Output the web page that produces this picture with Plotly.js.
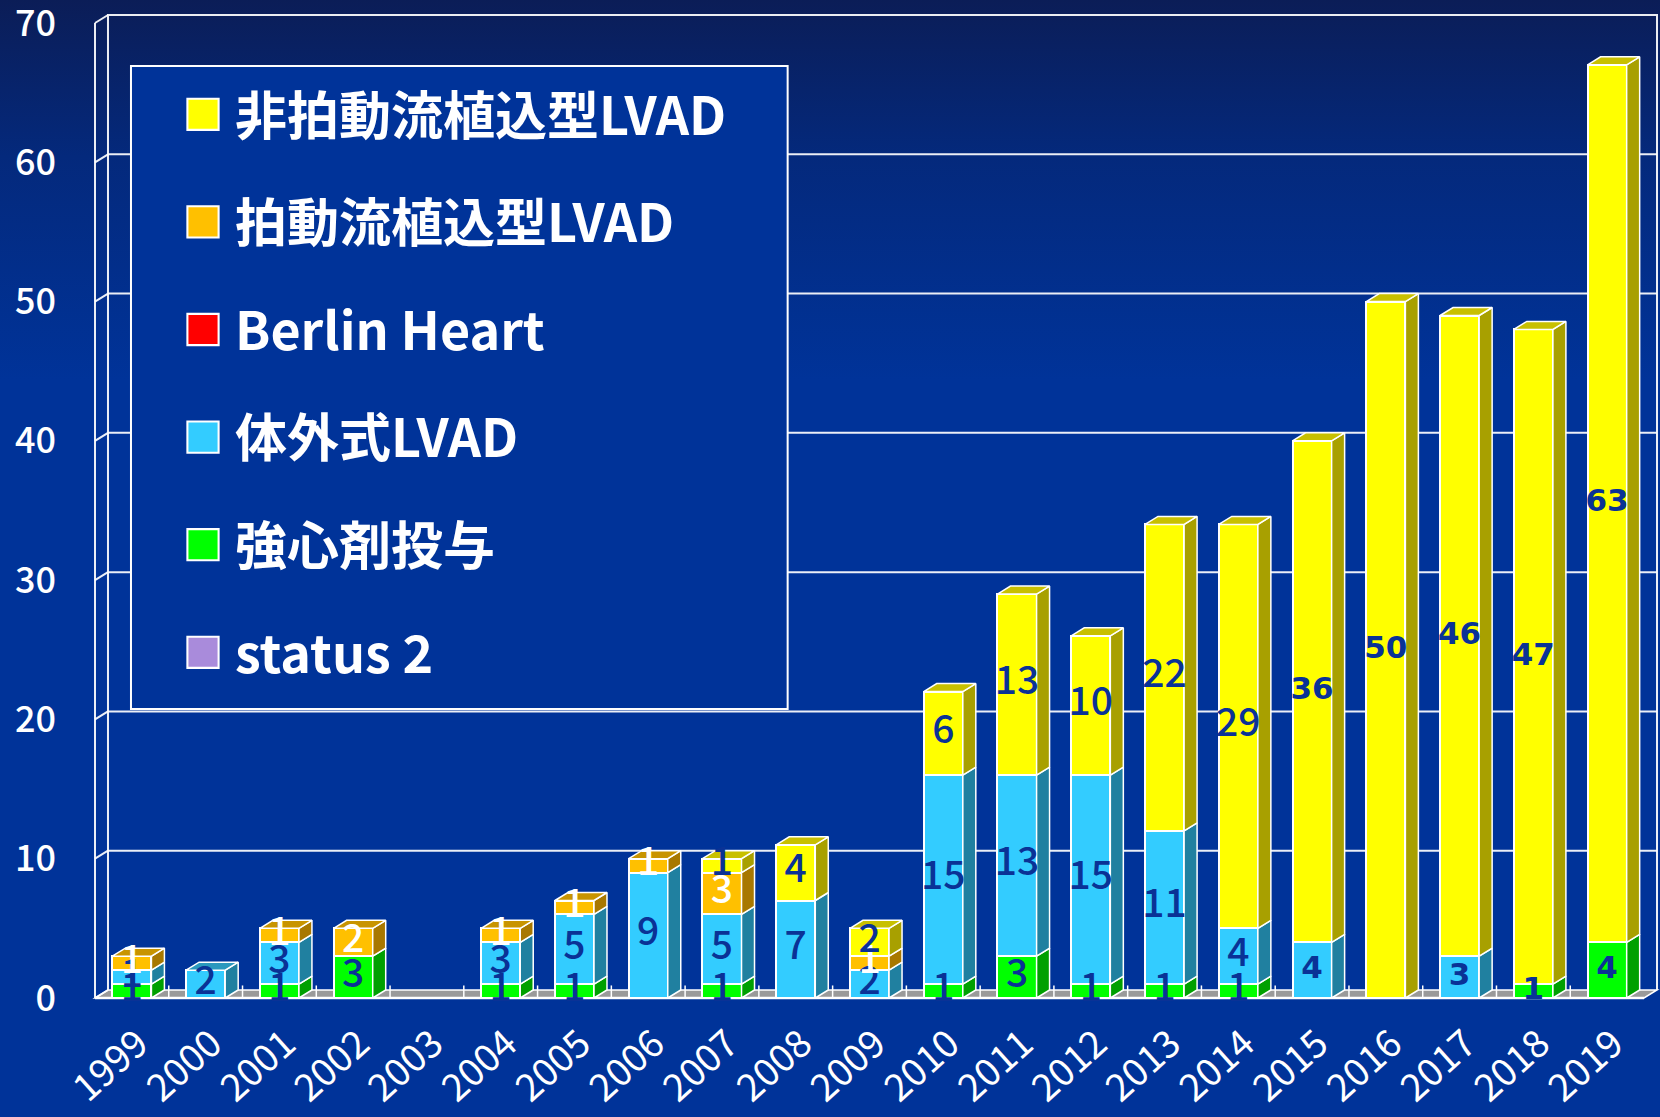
<!DOCTYPE html>
<html>
<head>
<meta charset="utf-8">
<script src="https://cdn.plot.ly/plotly-3.0.1.min.js"></script>
<style>
html,body{margin:0;padding:0;width:1660px;height:1117px;overflow:hidden;
background:linear-gradient(180deg,#0b1d57 0%,#04297c 14%,#003399 34%,#003399 100%);}
#chart{width:1660px;height:1117px;}
</style>
</head>
<body>
<div id="chart"></div>
<script>
// ---- data ----
const years = [1999,2000,2001,2002,2003,2004,2005,2006,2007,2008,2009,2010,2011,2012,2013,2014,2015,2016,2017,2018,2019];
const yearLabels = ["1999","2000","2001","2002","2003","2004","2005","2006","2007","2008","2009","2010","2011","2012","2013","2014","2015","2016","2017","2018","2019"];
const status2        = [0,0,0,0,0,0,0,0,0,0,0,0,0,0,0,0,0,0,0,0,0];
const inotrope       = [1,0,1,3,0,1,1,0,1,0,0,1,3,1,1,1,0,0,0,1,4];
const extracorporeal = [1,2,3,0,0,3,5,9,5,7,2,15,13,15,11,4,4,0,3,0,0];
const berlinHeart    = [0,0,0,0,0,0,0,0,0,0,0,0,0,0,0,0,0,0,0,0,0];
const pulsatile      = [1,0,1,2,0,1,1,1,3,0,1,0,0,0,0,0,0,0,0,0,0];
const nonPulsatile   = [0,0,0,0,0,0,0,0,1,4,2,6,13,10,22,29,36,50,46,47,63];
const yTicks = [0,10,20,30,40,50,60,70];

// ---- series (bottom to top) ----
const series = [
  {name:"status 2",           v:status2,        front:"#A98BDB", side:"#7A5FA8", top:"#8F72C2", txt:"#0a3296"},
  {name:"強心剤投与",          v:inotrope,       front:"#00FF00", side:"#00A000", top:"#00C400", txt:"#0a3296"},
  {name:"体外式LVAD",          v:extracorporeal, front:"#33CCFF", side:"#2080A0", top:"#2A98BE", txt:"#0a3296"},
  {name:"Berlin Heart",       v:berlinHeart,    front:"#FF0000", side:"#A80000", top:"#C80000", txt:"#0a3296"},
  {name:"拍動流植込型LVAD",     v:pulsatile,      front:"#FFC000", side:"#A87800", top:"#C89400", txt:"#FFFFFF"},
  {name:"非拍動流植込型LVAD",   v:nonPulsatile,   front:"#FFFF00", side:"#A8A000", top:"#C8C000", txt:"#0a3296"}
];

// ---- geometry (pixels -> data units) ----
const W = 1660, H = 1117;
const PXX = 73.8, PXY = 13.93;
const DXPX = 13, DYPX = 8, PAD = 3;
const dx = DXPX / PXX, dy = DYPX / PXY;
const xmin = years[0] - 0.5, xmax = years[years.length-1] + 0.5, ymax = 70;
const barW = 0.53;
const xr = [xmin - PAD/PXX, xmax + dx + PAD/PXX];
const yr = [-PAD/PXY, ymax + dy + PAD/PXY];
const plotW = (xr[1]-xr[0]) * PXX, plotH = (yr[1]-yr[0]) * PXY;
const mL = 95 - PAD, mT = 23 - DYPX - PAD;
const mR = Math.max(0, W - mL - plotW), mB = H - mT - plotH;

// ---- traces ----
const traces = [];
series.forEach((s, k) => {
  traces.push({type:"bar", name:s.name, x:years, y:s.v, width:barW,
    legendgroup:s.name, legendrank:series.length - k, textposition:"none", hoverinfo:"skip",
    marker:{color:s.front, line:{color:"#FFFFFF", width:2}}});
});

const base = years.map(() => 0);
const totals = years.map((_, i) => series.reduce((a, s) => a + s.v[i], 0));
const labA = {x:[], y:[], t:[], c:[]}, labB = {x:[], y:[], t:[], c:[]};
series.forEach(s => {
  const sx = [], sy = [], tx = [], ty = [];
  s.v.forEach((val, i) => {
    if (val > 0) {
      const b = base[i], t = b + val;
      const xl = years[i] - barW/2, xrr = years[i] + barW/2;
      sx.push(xrr, xrr+dx, xrr+dx, xrr, xrr, null);
      sy.push(b, b+dy, t+dy, t, b, null);
      if (Math.abs(t - totals[i]) < 1e-9) {
        tx.push(xl, xl+dx, xrr+dx, xrr, xl, null);
        ty.push(t, t+dy, t+dy, t, t, null);
      }
      const L = years[i] >= 2015 ? labB : labA;
      L.x.push(years[i]); L.y.push(b + val/2); L.t.push(String(val)); L.c.push(s.txt);
      base[i] = t;
    }
  });
  if (sx.length) traces.push({type:"scatter", mode:"lines", x:sx, y:sy, fill:"toself",
    fillcolor:s.side, line:{color:"#FFFFFF", width:1.5}, showlegend:false, hoverinfo:"skip"});
  if (tx.length) traces.push({type:"scatter", mode:"lines", x:tx, y:ty, fill:"toself",
    fillcolor:s.top, line:{color:"#FFFFFF", width:1.5}, showlegend:false, hoverinfo:"skip"});
});
traces.push({type:"scatter", mode:"text", x:labA.x, y:labA.y, text:labA.t, cliponaxis:false,
  textfont:{family:"Noto Sans CJK JP", size:39, color:labA.c, weight:500}, showlegend:false, hoverinfo:"skip"});
traces.push({type:"scatter", mode:"text", x:labB.x, y:labB.y, text:labB.t, cliponaxis:false,
  textfont:{family:"DejaVu Sans", size:31, color:labB.c, weight:"bold"}, showlegend:false, hoverinfo:"skip"});

// ---- decoration shapes (3D box) ----
const WL = {color:"rgba(255,255,255,0.92)", width:2};
const shapes = [];
shapes.push({type:"path", layer:"below", xref:"x", yref:"y",
  path:`M${xmin},0 L${xmax},0 L${xmax+dx},${dy} L${xmin+dx},${dy} Z`,
  fillcolor:"#9A9A9A", line:{color:"#FFFFFF", width:1.5}});
shapes.push({type:"path", layer:"below", xref:"x", yref:"y",
  path:`M${xmin+dx},${dy} L${xmin+dx},${ymax+dy} L${xmax+dx},${ymax+dy} L${xmax+dx},${dy}`,
  line:WL});
yTicks.forEach(k => {
  if (k > 0 && k < ymax) shapes.push({type:"line", layer:"below", xref:"x", yref:"y",
    x0:xmin+dx, x1:xmax+dx, y0:k+dy, y1:k+dy, line:WL});
  shapes.push({type:"line", layer:"below", xref:"x", yref:"y",
    x0:xmin, x1:xmin+dx, y0:k, y1:k+dy, line:WL});
});
shapes.push({type:"line", layer:"below", xref:"x", yref:"y", x0:xmin, x1:xmin, y0:0, y1:ymax, line:WL});
shapes.push({type:"line", layer:"below", xref:"x", yref:"y", x0:xmin, x1:xmax, y0:0, y1:0,
  line:{color:"#FFFFFF", width:2.5}});
years.slice(0, -1).forEach(y => {
  shapes.push({type:"line", layer:"below", xref:"x", yref:"y", x0:y+0.5, x1:y+0.5, y0:0, y1:0.9,
    line:{color:"#FFFFFF", width:1.5}});
});
// legend frame
const px2x = p => (p - mL) / plotW, py2y = p => 1 - (p - mT) / plotH;
shapes.push({type:"rect", layer:"above", xref:"paper", yref:"paper",
  x0:px2x(131), x1:px2x(788), y0:py2y(709), y1:py2y(66),
  fillcolor:"#003399", line:{color:"#FFFFFF", width:2}});

const layout = {
  width:W, height:H,
  margin:{l:mL, r:mR, t:mT, b:mB, pad:0, autoexpand:false},
  paper_bgcolor:"rgba(0,0,0,0)", plot_bgcolor:"rgba(0,0,0,0)",
  barmode:"stack", hovermode:false,
  xaxis:{range:xr, tickmode:"array", tickvals:years, ticktext:yearLabels, tickangle:-42,
    tickfont:{family:"Noto Sans CJK JP", size:38, color:"#FFFFFF"},
    ticks:"", ticklabelstandoff:12, ticklabelshift:6, automargin:false, ticklabeloverflow:"allow",
    showgrid:false, zeroline:false, showline:false, fixedrange:true},
  yaxis:{range:yr, tickmode:"array", tickvals:yTicks,
    tickfont:{family:"Noto Sans CJK JP", size:36, color:"#FFFFFF", weight:500},
    ticks:"", ticklabelstandoff:35, automargin:false, ticklabeloverflow:"allow",
    showgrid:false, zeroline:false, showline:false, fixedrange:true},
  showlegend:true,
  legend:{xref:"container", yref:"container", x:171/W, y:1-74/H, xanchor:"left", yanchor:"top",
    traceorder:"grouped", tracegroupgap:37, itemwidth:54, maxheight:900,
    bgcolor:"rgba(0,0,0,0)", borderwidth:0,
    font:{family:"Noto Sans CJK JP", size:52, color:"#FFFFFF", weight:"bold"}, itemclick:false, itemdoubleclick:false},
  shapes:shapes
};

Plotly.newPlot("chart", traces, layout, {displayModeBar:false, staticPlot:true}).then(gd => {
  gd.querySelectorAll(".legend .legendpoints path").forEach(p => {
    const t = p.getAttribute("transform") || "";
    p.setAttribute("transform", t + " scale(2.6)");
    p.style.strokeWidth = "0.8px";
  });
});
</script>
</body>
</html>
